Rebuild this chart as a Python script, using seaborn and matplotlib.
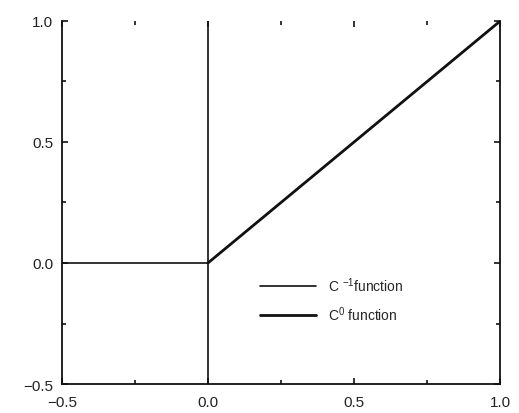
import numpy as np
import pandas as pd
import matplotlib
matplotlib.use("Agg")
import matplotlib.pyplot as plt
import seaborn as sns
from matplotlib.ticker import MultipleLocator

# --- DADOS ---
# C^-1: degrau (trecho horizontal em y=0 e salto vertical em x=0)
cm1_x = [-0.5, 0.0]
cm1_y = [0.0, 0.0]
salto_x = [0.0, 0.0]
salto_y = [-0.5, 1.0]
# C^0: rampa
c0_x = [0.0, 1.0]
c0_y = [0.0, 1.0]

x_lim = (-0.5, 1.0)
y_lim = (-0.5, 1.0)

sns.set_theme(style="ticks")
plt.rcParams['font.family'] = ['Liberation Sans', 'DejaVu Sans']
plt.rcParams['mathtext.fontset'] = 'custom'
plt.rcParams['mathtext.rm'] = 'Liberation Sans'
plt.rcParams['mathtext.it'] = 'Liberation Sans'

fig = plt.figure(figsize=(5.19, 4.14), dpi=100)
ax = fig.add_axes([0.119, 0.070, 0.845, 0.877])

df_m1 = pd.DataFrame({'x': cm1_x, 'y': cm1_y})
df_salto = pd.DataFrame({'x': salto_x, 'y': salto_y})
df_c0 = pd.DataFrame({'x': c0_x, 'y': c0_y})

# estimator=None: sem agregacao (senao o trecho vertical vira uma banda)
sns.lineplot(data=df_m1, x='x', y='y', ax=ax, color='#111111', linewidth=1.2,
             label=r'C $^{-1}$function', sort=False, estimator=None)
sns.lineplot(data=df_salto, x='x', y='y', ax=ax, color='#111111', linewidth=1.2,
             sort=False, legend=False, estimator=None)
sns.lineplot(data=df_c0, x='x', y='y', ax=ax, color='#111111', linewidth=2.0,
             label=r'C$^{0}$ function', sort=False, estimator=None)

ax.set_xlim(*x_lim)
ax.set_ylim(*y_lim)
ax.set_xlabel('')
ax.set_ylabel('')

ax.xaxis.set_major_locator(MultipleLocator(0.5))
ax.yaxis.set_major_locator(MultipleLocator(0.5))
ax.xaxis.set_minor_locator(MultipleLocator(0.25))
ax.yaxis.set_minor_locator(MultipleLocator(0.25))
ax.tick_params(which='both', direction='in', top=True, right=True,
               length=4, width=1.2, color='#111111', labelsize=11,
               labelcolor='#222222')
ax.tick_params(which='minor', length=3)
ax.tick_params(axis='x', pad=8)
ax.tick_params(axis='y', pad=6)

ax.spines['top'].set_visible(False)
for s in ['left', 'bottom', 'right']:
    ax.spines[s].set_linewidth(1.3)
    ax.spines[s].set_color('#111111')

ax.legend(loc='upper left', bbox_to_anchor=(0.44, 0.315), frameon=False,
          fontsize=10, handlelength=4.0, handletextpad=0.9,
          labelspacing=0.75, borderaxespad=0)

plt.savefig('out.png', dpi=100)
plt.close()
